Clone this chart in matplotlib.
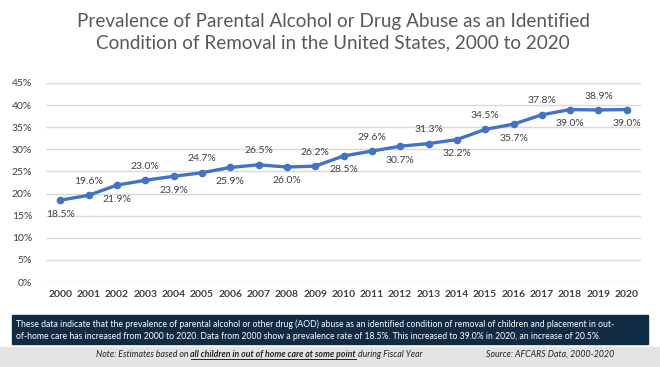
import numpy as np
import matplotlib.pyplot as plt
from matplotlib.patches import Rectangle
from matplotlib.lines import Line2D

plt.rcParams['font.family'] = ['Lato', 'DejaVu Sans']

years = [str(y) for y in range(2000, 2021)]
prevalence = [18.5, 19.6, 21.9, 23.0, 23.9, 24.7, 25.9, 26.5, 26.0, 26.2,
              28.5, 29.6, 30.7, 31.3, 32.2, 34.5, 35.7, 37.8, 39.0, 38.9, 39.0]
yticks = [0, 5, 10, 15, 20, 25, 30, 35, 40, 45]

title = ("Prevalence of Parental Alcohol or Drug Abuse as an Identified\n"
         "Condition of Removal in the United States, 2000 to 2020")
summary = ("These data indicate that the prevalence of parental alcohol or other drug (AOD) abuse as an "
           "identified condition of removal of children and placement in out-\n"
           "of-home care has increased from 2000 to 2020. Data from 2000 show a prevalence rate of 18.5%. "
           "This increased to 39.0% in 2020, an increase of 20.5%.")

W, H = 660, 367
fig = plt.figure(figsize=(W / 100, H / 100), dpi=100)

# footer band and summary box (pixel coords -> figure fraction)
fig.patches.append(Rectangle((0, 0), 1, 20 / H, transform=fig.transFigure,
                             color='#e4e4e4', zorder=0))
fig.patches.append(Rectangle((12 / W, (H - 344) / H), 636 / W, 29 / H,
                             transform=fig.transFigure, color='#0f2c44', zorder=0))

fig.text(0.505, 1 - 32 / H, title, ha='center', va='center', fontsize=13.6,
         color='#595959', linespacing=1.3)

ax = fig.add_axes([46 / W, (H - 282) / H, 595 / W, 199 / H])
x = np.arange(len(years))
ax.plot(x, prevalence, color='#4472c4', lw=2.4, marker='o', ms=4.5, zorder=3)
ax.set_xlim(-0.5, len(years) - 0.5)
ax.set_ylim(0, 45)
ax.set_yticks(yticks)
ax.set_yticklabels([f"{t}%" for t in yticks])
ax.set_xticks(x)
ax.set_xticklabels(years, fontweight='bold')
ax.tick_params(length=0, labelsize=7.5, labelcolor='#404040', pad=6)
ax.tick_params(axis='y', pad=10)
ax.grid(axis='y', color='#d9d9d9', lw=1)
ax.set_axisbelow(True)
for s in ax.spines.values():
    s.set_visible(False)

for i, v in enumerate(prevalence):
    off = -10 if i % 2 == 0 else 10
    ax.annotate(f"{v:.1f}%", (i, v), xytext=(0, off), textcoords='offset points',
                ha='center', va='center', fontsize=7.5, color='#404040')

fig.text(16 / W, 1 - 330 / H, summary, ha='left', va='center', fontsize=6.2,
         color='white', linespacing=1.45)

# footnote with bold underlined part
t1 = fig.text(96 / W, 1 - 357 / H, "Note: Estimates based on ", ha='left', va='baseline',
              fontsize=6.3, style='italic', color='#222222')
t2 = fig.text(0, 0, "all children in out of home care at some point", fontsize=6.3,
              style='italic', fontweight='bold', color='#222222')
t3 = fig.text(0, 0, " during Fiscal Year", fontsize=6.3, style='italic', color='#222222')
fig.canvas.draw()
r = fig.canvas.get_renderer()
inv = fig.transFigure.inverted()
b1 = t1.get_window_extent(r)
y0 = t1.get_position()[1]
t2.set_position((inv.transform((b1.x1, 0))[0], y0))
t2.set_va('baseline')
fig.canvas.draw()
b2 = t2.get_window_extent(r)
t3.set_position((inv.transform((b2.x1, 0))[0], y0))
t3.set_va('baseline')
ux0 = inv.transform((b2.x0, 0))[0]
ux1 = inv.transform((b2.x1, 0))[0]
fig.lines.append(Line2D([ux0, ux1], [y0 - 2.2 / H, y0 - 2.2 / H], transform=fig.transFigure,
                        color='#222222', lw=0.7))

fig.text(550 / W, 1 - 357 / H, "Source: AFCARS Data, 2000-2020", ha='center', va='baseline',
         fontsize=6.3, style='italic', color='#222222')

fig.savefig('out.png', dpi=100)
